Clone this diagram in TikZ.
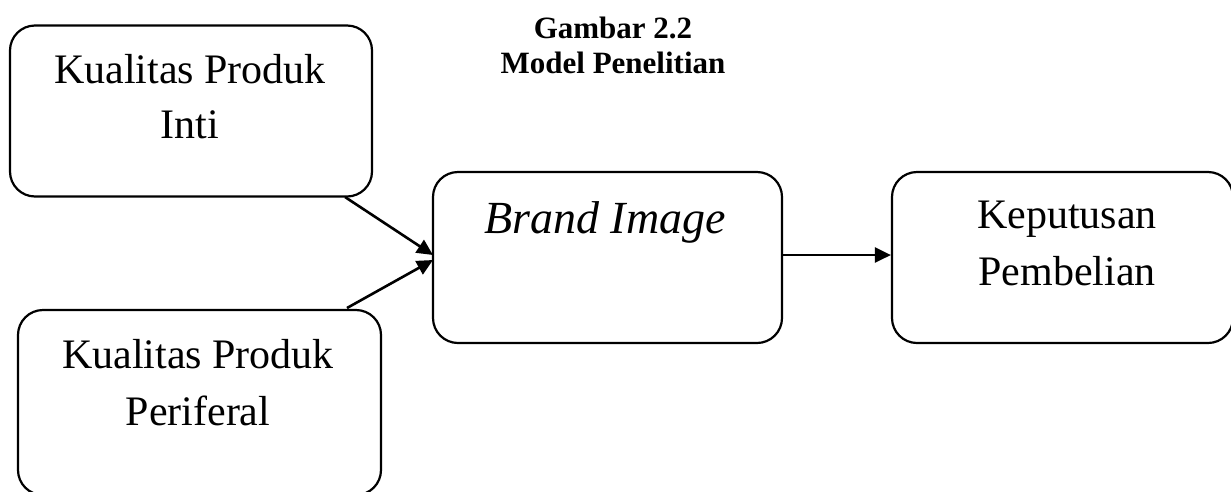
\documentclass[tikz,border=0pt]{standalone}
\usepackage{fontspec}
\setmainfont{Liberation Serif}
\usetikzlibrary{arrows.meta}
\begin{document}
\begin{tikzpicture}[x=1pt,y=-1pt,
  box/.style={draw=black,line width=2.2pt,rounded corners=25pt,fill=none,inner sep=0pt},
  boxtext/.style={anchor=base,inner sep=0pt,font=\fontsize{42}{50}\selectfont},
  titletext/.style={anchor=base,inner sep=0pt,font=\fontsize{31}{37}\selectfont\bfseries},
  conn/.style={line width=2.6pt,-{Triangle[length=16pt,width=15pt]}}]
\useasboundingbox (0,0) rectangle (1231,491);
% title
\node[titletext] (t1) at (613,38) {Gambar 2.2};
\node[titletext] (t2) at (613,73) {Model Penelitian};
% boxes
\node[box,minimum width=362pt,minimum height=171pt] (A) at (191,111) {};
\node[box,minimum width=363pt,minimum height=185pt] (B) at (199.5,402.5) {};
\node[box,minimum width=349pt,minimum height=171pt] (C) at (607.5,257.5) {};
\node[box,minimum width=341pt,minimum height=171pt] (D) at (1062.5,257.5) {};
% texts
\node[boxtext] (A1) at (190,83) {Kualitas Produk};
\node[boxtext] (A2) at (190,138) {Inti};
\node[boxtext] (B1) at (198,368) {Kualitas Produk};
\node[boxtext] (B2) at (198,425) {Periferal};
\node[boxtext,font=\fontsize{46}{54}\selectfont\itshape] (C1) at (605,233) {Brand Image};
\node[boxtext] (D1) at (1067,228) {Keputusan};
\node[boxtext] (D2) at (1067,285) {Pembelian};
% connector endpoints
\coordinate (As) at (345,197);
\coordinate (Bs) at (347,308);
\coordinate (Ce1) at (433,255);
\coordinate (Ce2) at (433,260);
\draw[conn] (As) -- (Ce1);
\draw[conn] (Bs) -- (Ce2);
\draw[conn] (C.east |- 0,255) -- (D.west |- 0,255);
\end{tikzpicture}
\end{document}
